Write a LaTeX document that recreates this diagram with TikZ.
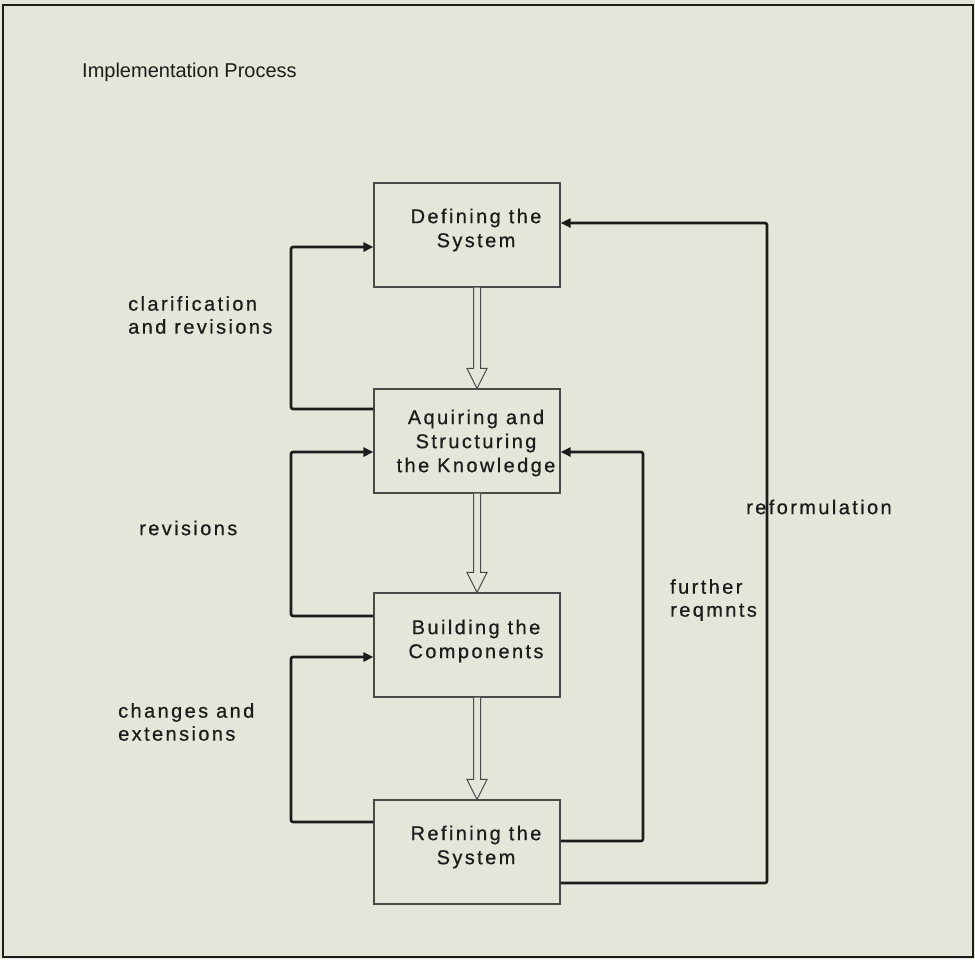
\documentclass[tikz,border=0pt]{standalone}
\usepackage{fontspec}
\setmainfont{Liberation Sans}
\newfontfamily\spaced[LetterSpace=12,FakeBold=0.6]{Liberation Sans}
\usetikzlibrary{arrows.meta}
\definecolor{paper}{RGB}{230,229,218}
\definecolor{ink}{RGB}{28,28,28}

\begin{document}
\begin{tikzpicture}[x=1pt,y=-1pt,
  stage/.style={draw=ink!80, line width=1.1pt, minimum width=186pt,
    minimum height=104pt, inner sep=0pt},
  stagetext/.style={align=center, text=ink,
    font=\spaced\fontsize{20}{24}\selectfont},
  note/.style={align=left, anchor=west, text=ink, inner sep=0pt,
    font=\spaced\fontsize{20}{23}\selectfont},
  fb/.style={draw=ink, line width=2.6pt, rounded corners=2pt,
    -{Triangle[length=10pt,width=9pt]}},
  hollow/.style={draw=ink!80, line width=1pt, fill=paper}
]
% paper and frame
\fill[paper] (0,0) rectangle (975,959);
\useasboundingbox (0,0) rectangle (975,959);
\draw[ink, line width=1.8pt] (3,5) rectangle (973,957);

% title
\node[anchor=west, inner sep=0pt, text=ink, font=\fontsize{20}{24}\selectfont]
  (title) at (82,72) {Implementation Process};

% process stages
\node[stage] (def) at (467,235) {};
\node[stage] (acq) at (467,441) {};
\node[stage] (bld) at (467,645) {};
\node[stage] (ref) at (467,852) {};

\node[stagetext] (deft) at (476,230) {Defining the\\System};
\node[stagetext] (acqt) at (476,443) {Aquiring and\\Structuring\\the Knowledge};
\node[stagetext] (bldt) at (476,641) {Building the\\Components};
\node[stagetext] (reft) at (476,847) {Refining the\\System};

% hollow flow arrows between stages
\newcommand\flowarrow[2]{%
  \draw[hollow] ([xshift=6.5pt]#1.south) -- ([xshift=6.5pt,yshift=20pt]#2.north)
    -- ([xshift=0pt,yshift=20pt]#2.north) -- ([xshift=10pt]#2.north)
    -- ([xshift=20pt,yshift=20pt]#2.north) -- ([xshift=13.5pt,yshift=20pt]#2.north)
    -- ([xshift=13.5pt]#1.south);}
\flowarrow{def}{acq}
\flowarrow{acq}{bld}
\flowarrow{bld}{ref}

% feedback loops on the left
\draw[fb] ([yshift=32pt]acq.west) -| (291,247) -- ([yshift=-12pt]def.west);
\draw[fb] ([yshift=29pt]bld.west) -| (291,452) -- ([yshift=-11pt]acq.west);
\draw[fb] ([yshift=30pt]ref.west) -| (291,657) -- ([yshift=-12pt]bld.west);

% feedback loops on the right
\draw[fb] ([yshift=11pt]ref.east) -| (643,452) -- ([yshift=-11pt]acq.east);
\draw[fb] ([yshift=-31pt]ref.east) -| (767,223) -- ([yshift=12pt]def.east);

% loop labels
\node[note] (lclar) at (128,315) {clarification\\and revisions};
\node[note] (lrev) at (139,528) {revisions};
\node[note] (lchg) at (118,722) {changes and\\extensions};
\node[note] (lref) at (746,507) {reformulation};
\node[note] (lfur) at (670,600) {further\\reqmnts};
\end{tikzpicture}
\end{document}
